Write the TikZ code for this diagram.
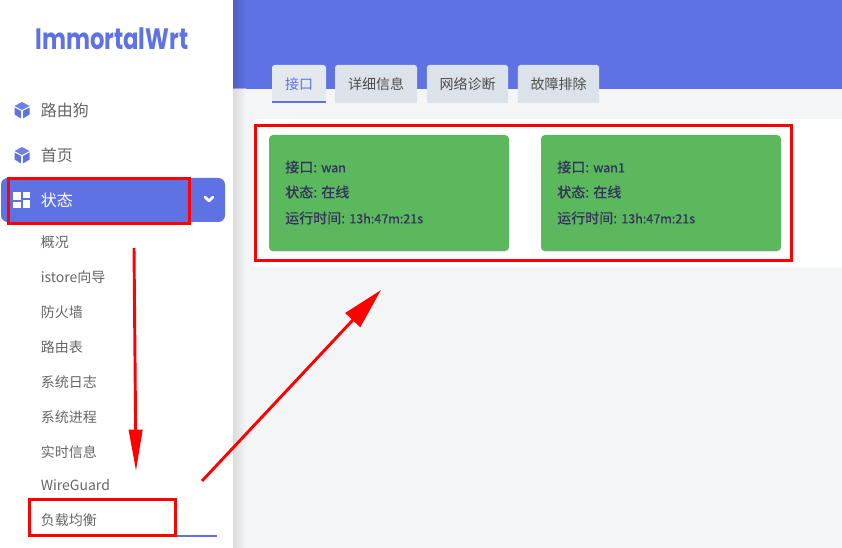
\documentclass[tikz,border=0pt]{standalone}
\usepackage{fontspec}
\setmainfont{Noto Sans CJK SC}
\newfontfamily\logofont{Poppins}
\newfontfamily\cardfont[FakeBold=0.5]{Noto Sans CJK SC}
\usetikzlibrary{arrows.meta,shadows}
\definecolor{brandblue}{HTML}{5E72E4}
\definecolor{pagegrey}{HTML}{F4F5F7}
\definecolor{tabgrey}{HTML}{DCE2E9}
\definecolor{tabactive}{HTML}{E4E9F0}
\definecolor{cardgreen}{HTML}{5CB85C}
\definecolor{carddark}{HTML}{32325D}
\definecolor{menugrey}{HTML}{666666}
\definecolor{markred}{HTML}{FF0000}
\newcommand{\lat}[1]{{\fontsize{9.4}{12}\selectfont #1}}
\tikzset{
	menuitem/.style={anchor=west,inner sep=0pt,text=menugrey,font=\fontsize{10.5}{13}\selectfont},
	topitem/.style={anchor=west,inner sep=0pt,text=menugrey,font=\fontsize{12}{15}\selectfont},
	tabitem/.style={fill=tabgrey,rounded corners=2pt,inner sep=0pt,minimum height=28.5pt,text=black!70,font=\fontsize{10.5}{13}\selectfont},
	statuscard/.style={fill=cardgreen,rounded corners=3pt,inner sep=0pt,minimum width=180pt,minimum height=87pt,drop shadow={shadow xshift=0pt,shadow yshift=-0.7pt,opacity=0.2}},
	cardtext/.style={anchor=west,inner sep=0pt,text=carddark,font=\cardfont\fontsize{10.5}{13}\selectfont},
	markbox/.style={draw=markred,line width=2.25pt,inner sep=0pt},
	markarrow/.style={draw=markred,line width=2.2pt,-{Triangle[length=31pt,width=10pt,fill=markred]}}
}
\newcommand{\cubeat}[2]{%
	\fill[brandblue!90!white] (#1,#2-8) -- (#1+7.5,#2-4) -- (#1,#2) -- (#1-7.5,#2-4) -- cycle;
	\fill[brandblue] (#1-7.5,#2-2.5) -- (#1-1,#2+1) -- (#1-1,#2+8.5) -- (#1-7.5,#2+4.5) -- cycle;
	\fill[brandblue] (#1+7.5,#2-2.5) -- (#1+1,#2+1) -- (#1+1,#2+8.5) -- (#1+7.5,#2+4.5) -- cycle;
}
\begin{document}
\begin{tikzpicture}[x=0.75pt,y=-0.75pt]
	\useasboundingbox (0,0) rectangle (842,548);
	% page background
	\fill[pagegrey] (0,0) rectangle (842,548);
	\fill[brandblue] (233,0) rectangle (842,89);
	\shade[left color=black!14,right color=pagegrey] (233,89) rectangle (246,548);
	\shade[left color=black!30!brandblue,right color=brandblue,opacity=0.5] (233,0) rectangle (246,89);
	\fill[white] (0,0) rectangle (233,548);
	\fill[white,rounded corners=3pt] (253,119) rectangle (850,267);

	% sidebar
	\node[inner sep=0pt,text=brandblue,font=\logofont\bfseries\fontsize{17}{20}\selectfont] (logo) at (112,39) {\scalebox{1}[1.3]{ImmortalWrt}};
	\cubeat{22}{110}
	\node[topitem] (router) at (40.5,110) {路由狗};
	\cubeat{22}{155}
	\node[topitem] (home) at (40.5,155) {首页};
	\fill[brandblue,rounded corners=5pt] (1,178) rectangle (225,222);
	\fill[white] (13,192) rectangle (21,200);
	\fill[white] (13,202) rectangle (21,208);
	\fill[white] (23,192) rectangle (30,198);
	\fill[white] (23,200) rectangle (30,208);
	\node[topitem,text=white] (status) at (40.5,200) {状态};
	\draw[white,line width=2pt,line cap=round,line join=round] (205,197) -- (209,201) -- (213,197);
	\node[menuitem] (overview) at (40.5,242) {概况};
	\node[menuitem] (istore) at (40.5,277) {istore向导};
	\node[menuitem] (firewall) at (40.5,312) {防火墙};
	\node[menuitem] (routes) at (40.5,347) {路由表};
	\node[menuitem] (syslog) at (40.5,382) {系统日志};
	\node[menuitem] (process) at (40.5,417) {系统进程};
	\node[menuitem] (realtime) at (40.5,452) {实时信息};
	\node[menuitem] (wireguard) at (40.5,485) {WireGuard};
	\node[menuitem] (balance) at (40.5,520) {负载均衡};
	\draw[brandblue,line width=1.2pt] (41,536) -- (217,536);

	% tabs
	\node[tabitem,fill=tabactive,minimum width=40.5pt,text=brandblue] (tabif) at (299,84) {接口};
	\fill[tabactive] (tabif.south west) rectangle ([yshift=4pt]tabif.south east);
	\draw[brandblue,line width=2.2pt] (272,102) -- (326,102);
	\node[tabitem,minimum width=61.5pt] (tabinfo) at (376,84) {详细信息};
	\node[tabitem,minimum width=61pt] (tabdiag) at (467.5,84) {网络诊断};
	\node[tabitem,minimum width=61pt] (tabfix) at (558.5,84) {故障排除};
	\foreach \tabname in {tabinfo,tabdiag,tabfix}
		\fill[tabgrey] (\tabname.south west) rectangle ([yshift=4pt]\tabname.south east);

	% status cards
	\node[statuscard] (wancard) at (389,193) {};
	\node[cardtext] (wanname) at (285,167) {接口: \lat{wan}};
	\node[cardtext] (wanstate) at (285,192) {状态: 在线};
	\node[cardtext] (wantime) at (285,218) {运行时间: \lat{13h:47m:21s}};
	\node[statuscard] (wanonecard) at (661,193) {};
	\node[cardtext] (wanonename) at (557,167) {接口: \lat{wan1}};
	\node[cardtext] (wanonestate) at (557,192) {状态: 在线};
	\node[cardtext] (wanonetime) at (557,218) {运行时间: \lat{13h:47m:21s}};

	% red marks
	\node[markbox,minimum width=135.75pt,minimum height=33.75pt] (statusmark) at (99,201) {};
	\node[markbox,minimum width=109.5pt,minimum height=27pt] (balancemark) at (102.5,517.5) {};
	\node[markbox,minimum width=402pt,minimum height=101.25pt] (cardmark) at (523.5,193) {};
	\coordinate (downstart) at (134,248);
	\coordinate (downend) at (136,471);
	\coordinate (diagstart) at (202,481);
	\coordinate (diagend) at (381,290);
	\draw[markarrow] (downstart) -- (downend);
	\draw[markarrow,-{Triangle[length=31pt,width=15pt,fill=markred]}] (diagstart) -- (diagend);
\end{tikzpicture}
\end{document}
